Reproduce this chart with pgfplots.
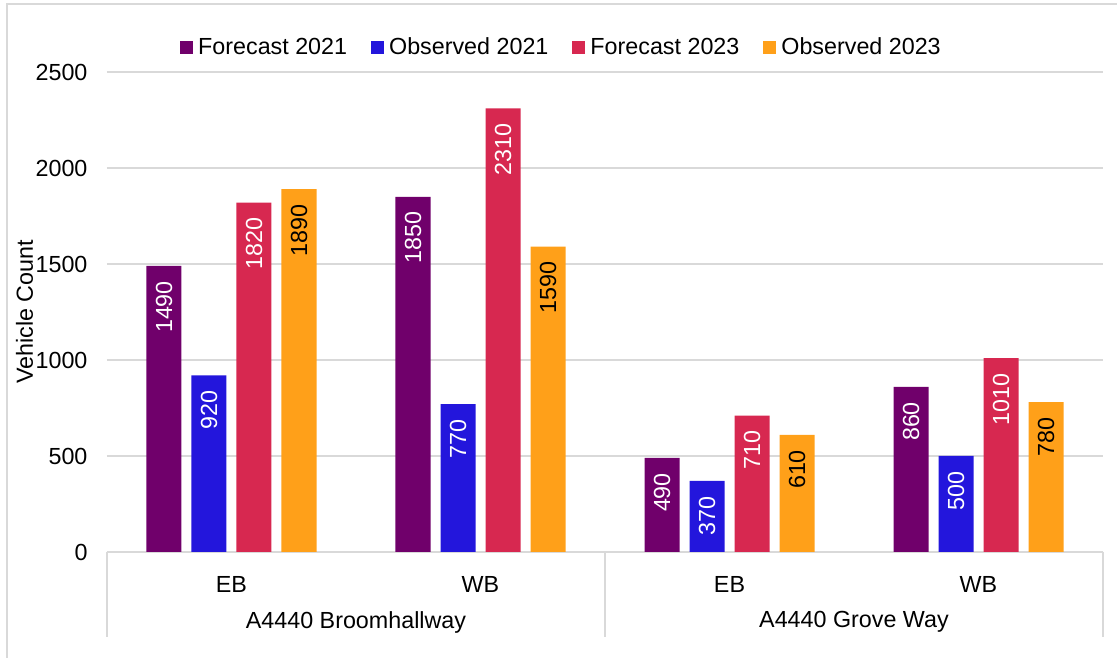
\documentclass[border=0pt]{standalone}
\usepackage{fontspec}
\setmainfont{Liberation Sans}
\usepackage{pgfplots}
\pgfplotsset{compat=1.18}

\definecolor{fc21}{HTML}{70006B}
\definecolor{ob21}{HTML}{2316DC}
\definecolor{fc23}{HTML}{D72850}
\definecolor{ob23}{HTML}{FFA019}
\definecolor{gridgray}{HTML}{D9D9D9}

\begin{document}
\begin{tikzpicture}[font=\fontsize{23.3}{27}\selectfont]
  \useasboundingbox (-107pt,-106pt) rectangle (1010pt,552pt);
  \draw[gridgray, line width=1.5pt] (-100pt,-120pt) -- (-100pt,548pt) -- (1100pt,548pt);
  \begin{axis}[
    at={(0,0)}, anchor=south west,
    scale only axis,
    width=996pt, height=480pt,
    clip=false,
    ybar, bar width=35pt,
    xmin=-0.5, xmax=3.5,
    ymin=0, ymax=2500,
    ytick={0,500,...,2500},
    xtick={0,1,2,3},
    xticklabels={EB,WB,EB,WB},
    axis x line*=bottom, axis y line*=left,
    x axis line style={draw=gridgray, line width=1.5pt, -},
    y axis line style={draw=none},
    major tick style={draw=none},
    ymajorgrids,
    grid style={draw=gridgray, line width=1.5pt},
    /pgf/number format/1000 sep={},
    /pgf/number format/assume math mode=true,
    yticklabel style={anchor=east, xshift=-16pt},
    xticklabel style={anchor=center, yshift=-28pt},
    ylabel={Vehicle Count},
    ylabel style={at={(axis description cs:-0.0827,0.5)}, anchor=center},
    nodes near coords,
    every node near coord/.append style={rotate=90, anchor=east, inner xsep=15pt},
    legend columns=4,
    legend style={at={(axis description cs:0.4563,1.052)}, anchor=center,
      draw=none, fill=none,
      /tikz/every odd column/.append style={column sep=3pt},
      /tikz/every even column/.append style={column sep=22pt}},
    legend image code/.code={\fill[#1] (0pt,-6.5pt) rectangle (13pt,6.5pt);},
  ]
    \addplot[fill=fc21, draw=none, bar shift=-67.5pt,
      every node near coord/.append style={text=white}]
      coordinates {(0,1490) (1,1850) (2,490) (3,860)};
    \addlegendentry{Forecast 2021}
    \addplot[fill=ob21, draw=none, bar shift=-22.5pt,
      every node near coord/.append style={text=white}]
      coordinates {(0,920) (1,770) (2,370) (3,500)};
    \addlegendentry{Observed 2021}
    \addplot[fill=fc23, draw=none, bar shift=22.5pt,
      every node near coord/.append style={text=white}]
      coordinates {(0,1820) (1,2310) (2,710) (3,1010)};
    \addlegendentry{Forecast 2023}
    \addplot[fill=ob23, draw=none, bar shift=67.5pt,
      every node near coord/.append style={text=black}]
      coordinates {(0,1890) (1,1590) (2,610) (3,780)};
    \addlegendentry{Observed 2023}

    % dividers between the road groups
    \draw[gridgray, line width=1.5pt] (axis cs:-0.5,0) -- ++(0pt,-85pt);
    \draw[gridgray, line width=1.5pt] (axis cs:1.5,0) -- ++(0pt,-85pt);
    \draw[gridgray, line width=1.5pt] (axis cs:3.5,0) -- ++(0pt,-85pt);

    \node at (axis cs:0.5,0) [yshift=-70pt] {A4440 Broomhallway};
    \node at (axis cs:2.5,0) [yshift=-70pt] {A4440 Grove Way};
  \end{axis}
\end{tikzpicture}
\end{document}
